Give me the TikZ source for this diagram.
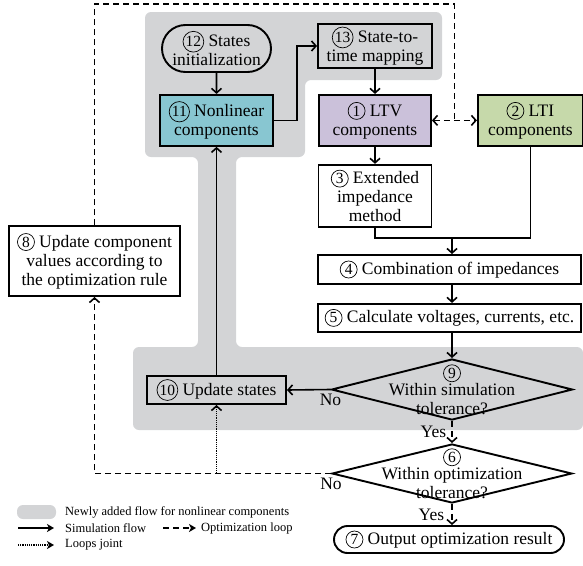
\documentclass[tikz,border=0pt]{standalone}
\usepackage{fontspec}
\setmainfont{Liberation Serif}
\usetikzlibrary{arrows.meta,positioning,calc,shapes.geometric,shapes.misc}
\definecolor{nlTeal}{HTML}{88C6D1}
\definecolor{ltvLilac}{HTML}{CBC1DA}
\definecolor{ltiGreen}{HTML}{C6D9AA}
\definecolor{newGray}{HTML}{D3D4D6}
% circled step number
\newcommand{\cnum}[1]{\tikz[baseline=(c.base)]\node[circle, draw, fill=none, line width=0.7pt,
  inner sep=0.8pt, minimum width=17pt, minimum height=17pt,
  font=\fontsize{15.5}{15.5}\selectfont] (c) {#1};}
\tikzset{
  >={Straight Barb[length=4.5pt,width=10pt]},
  base/.style={font=\fontsize{17.5}{19}\selectfont, align=center, inner sep=2pt},
  box/.style={base, rectangle, draw, line width=1.9pt},
  term/.style={base, rounded rectangle, draw, line width=1.9pt},
  dec/.style={diamond, draw, line width=1.9pt, inner sep=0pt},
  flow/.style={->, line width=1.6pt},
  link/.style={line width=1.6pt},
  opt/.style={line width=1.6pt, dash pattern=on 6pt off 4pt},
  joint/.style={->, line width=1.6pt, dash pattern=on 1.2pt off 1pt},
  newflow/.style={fill=newGray, rounded corners=6pt},
  legtext/.style={font=\fontsize{12.5}{14}\selectfont, inner sep=3pt, anchor=west},
  legarrow/.style={-{Stealth[length=7pt,width=8pt,inset=2pt]}, line width=1.5pt},
}
\begin{document}
\begin{tikzpicture}[x=1pt, y=-1pt]
  \useasboundingbox (0,0) rectangle (583,565);

  % newly added region for nonlinear components
  \fill[newflow] (145,12) -- (442,12) -- (442,80) -- (305,80) -- (305,157) -- (236,157)
    -- (236,347) -- (583,347) -- (583,430) -- (133,430) -- (133,347) -- (198,347)
    -- (198,157) -- (145,157) -- cycle;

  \node[term, minimum width=113pt, minimum height=47pt] (n12) at (216.5,48.5) {\cnum{12} States\\initialization};
  \node[box, fill=nlTeal, minimum width=113pt, minimum height=51pt, below=21pt of n12] (n11) {\cnum{11} Nonlinear\\components};
  \node[box, minimum width=114pt, minimum height=44pt] (n13) at (375,46) {\cnum{13} State-to-\\time mapping};
  \node[box, fill=ltvLilac, minimum width=112pt, minimum height=51pt, below=25pt of n13] (n1) {\cnum{1} LTV\\components};
  \node[box, fill=ltiGreen, minimum width=105pt, minimum height=51pt, right=45pt of n1] (n2) {\cnum{2} LTI\\components};
  \node[box, fill=white, minimum width=113pt, minimum height=62pt, below=17pt of n1] (n3) {\cnum{3} Extended\\impedance\\method};
  \node[box, fill=white, minimum width=263pt, minimum height=29pt] (n4) at (449.5,269.5) {\cnum{4} Combination of impedances};
  \node[box, fill=white, minimum width=263pt, minimum height=28pt, below=18pt of n4] (n5) {\cnum{5} Calculate voltages, currents, etc.};
  \node[dec, minimum width=241pt, minimum height=61pt,
        label={[base]center:{\cnum{9}\\[-2pt]Within simulation\\tolerance?}}] (d9) at (452,389.5) {};
  \node[box, minimum width=139pt, minimum height=28pt] (n10) at (216.5,390) {\cnum{10} Update states};
  \node[dec, minimum width=240pt, minimum height=59pt,
        label={[base]center:{\cnum{6}\\[-2pt]Within optimization\\tolerance?}}] (d6) at (452,473.5) {};
  \node[term, fill=white, minimum width=234pt, minimum height=27pt] (n7) at (449,539.5) {\cnum{7} Output optimization result};
  \node[box, fill=white, minimum width=171pt, minimum height=70pt] (n8) at (94.5,261) {\cnum{8} Update component\\values according to\\the optimization rule};

  % simulation flow
  \draw[flow] (n12) -- (n11);
  \draw[flow] (n11.east) -- ++(23,0) |- (n13.west);
  \draw[flow] (n13) -- (n1);
  \draw[flow] (n1) -- (n3);
  \coordinate (mg) at (452,238);
  \draw[link] (n3.south) |- (mg);
  \draw[link] (n2.south) |- (mg);
  \draw[flow] (mg) -- (mg |- n4.north);
  \draw[flow] (n4.south -| d9.north) -- (n5.north -| d9.north);
  \draw[flow] (n5.south -| d9.north) -- (d9.north);
  \draw[flow] (d9.west) -- node[pos=0, below, base, inner sep=4pt] {No} (n10.east);
  \draw[flow] (n10) -- (n11);

  % optimization loop
  \draw[opt,->] (d9.south) -- node[left, base, xshift=-3pt] {Yes} (d6.north);
  \draw[opt,->] (d6.south) -- node[left, base, xshift=-5pt] {Yes} (d6.south |- n7.north);
  \draw[opt,->] (d6.west) -- node[pos=0, below, base, inner sep=4pt] {No} ++(-1,0) -| (n8.south);
  \coordinate (jn) at ($(n1.east)!0.5!(n2.west)$);
  \coordinate (tp) at (jn |- 0,4);
  \draw[opt] (n8.north) |- (tp) -- (jn);
  \draw[opt,<->] (n1.east) -- (n2.west);

  % loops joint
  \coordinate (jt) at (n10.south |- d6.west);
  \draw[joint] (jt) -- (n10.south);

  % legend
  \node[newflow, minimum width=39pt, minimum height=14pt] (lgbox) at (36.5,512) {};
  \node[legtext] (lgnew) at (62,512) {Newly added flow for nonlinear components};
  \coordinate (ls1) at (18,528);
  \coordinate (ls2) at (54,528);
  \draw[legarrow] (ls1) -- (ls2);
  \node[legtext] (lgsim) at (62,528) {Simulation flow};
  \coordinate (lo1) at (163,528);
  \coordinate (lo2) at (196,528);
  \draw[legarrow, dash pattern=on 6pt off 4pt] (lo1) -- (lo2);
  \node[legtext] (lgopt) at (198,528) {Optimization loop};
  \coordinate (lj1) at (18,545);
  \coordinate (lj2) at (54,545);
  \draw[legarrow, dash pattern=on 1.2pt off 1pt] (lj1) -- (lj2);
  \node[legtext] (lgjoint) at (62,545) {Loops joint};
\end{tikzpicture}
\end{document}
